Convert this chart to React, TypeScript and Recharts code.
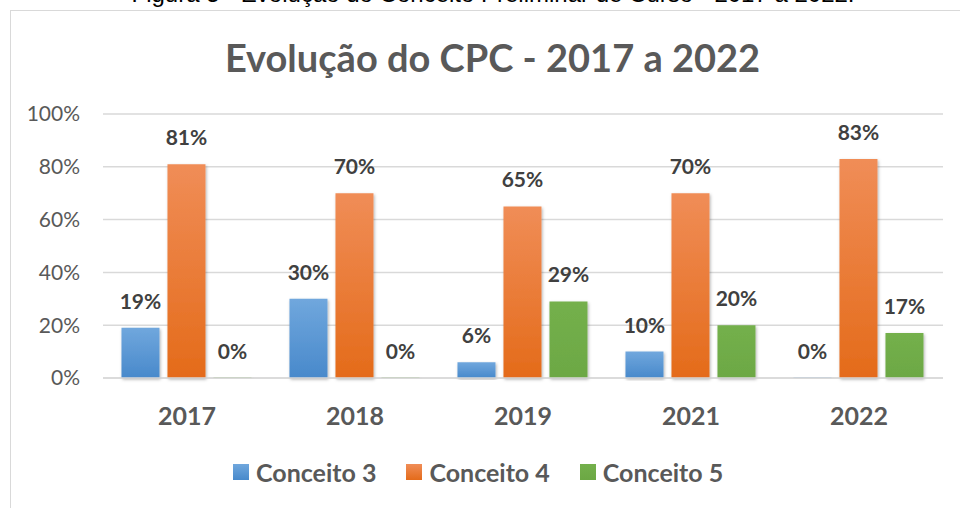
import { BarChart, Bar, XAxis, YAxis, CartesianGrid, Legend, LabelList } from 'recharts';

const years = ['2017', '2018', '2019', '2021', '2022'];
const conceito3 = [19, 30, 6, 10, 0];
const conceito4 = [81, 70, 65, 70, 83];
const conceito5 = [0, 0, 29, 20, 17];
const yTicks = [0, 20, 40, 60, 80, 100];

const data = years.map((year, i) => ({
  year,
  c3: conceito3[i],
  c4: conceito4[i],
  c5: conceito5[i],
}));

const SERIES = [
  { key: 'c3', name: 'Conceito 3', top: '#70a7dd', bottom: '#4889cb' },
  { key: 'c4', name: 'Conceito 4', top: '#f08d57', bottom: '#e46b1a' },
  { key: 'c5', name: 'Conceito 5', top: '#74b04c', bottom: '#6ca844' },
];

const FONT = 'Lato, "Open Sans", sans-serif';
const TEXT = '#595959';

function LegendContent() {
  return (
    <div style={{ display: 'flex', alignItems: 'center', fontFamily: FONT }}>
      {SERIES.map((s, i) => (
        <div key={s.key} style={{ display: 'flex', alignItems: 'center', marginLeft: i === 0 ? 0 : 30 }}>
          <span
            style={{
              width: 16,
              height: 16,
              marginRight: 7,
              background: `linear-gradient(${s.top}, ${s.bottom})`,
              display: 'inline-block',
            }}
          />
          <span style={{ fontSize: 25, fontWeight: 700, color: TEXT }}>{s.name}</span>
        </div>
      ))}
    </div>
  );
}

export default function App() {
  return (
    <div
      style={{
        position: 'absolute',
        left: 0,
        top: 0,
        width: 960,
        height: 508,
        overflow: 'hidden',
        background: '#fff',
      }}
    >
      <div
        style={{
          position: 'absolute',
          left: 0,
          width: 986,
          top: -20,
          textAlign: 'center',
          fontFamily: '"Liberation Sans", Arial, sans-serif',
          fontSize: 24,
          lineHeight: '28px',
          color: '#000',
        }}
      >
        Figura 5 - Evolução do Conceito Preliminar de Curso - 2017 a 2022.
      </div>
      <div
        style={{
          position: 'absolute',
          left: 10,
          top: 10,
          width: 965,
          height: 520,
          borderLeft: '1px solid #d9d9d9',
          borderTop: '1px solid #d9d9d9',
        }}
      >
        <div
          style={{
            position: 'absolute',
            left: 0,
            top: 23,
            width: 963,
            textAlign: 'center',
            fontFamily: FONT,
            fontWeight: 700,
            fontSize: 38,
            color: TEXT,
          }}
        >
          Evolução do CPC - 2017 a 2022
        </div>
        <BarChart
          width={965}
          height={497}
          data={data}
          margin={{ top: 103, right: 33, bottom: 70, left: 0 }}
          barGap={8}
          barCategoryGap="11%"
        >
          <defs>
            {SERIES.map((s) => (
              <linearGradient key={s.key} id={`grad-${s.key}`} x1="0" y1="0" x2="0" y2="1">
                <stop offset="0%" stopColor={s.top} />
                <stop offset="100%" stopColor={s.bottom} />
              </linearGradient>
            ))}
            <filter id="barShadow" x="-20%" y="-5%" width="140%" height="115%">
              <feDropShadow dx="1" dy="1.5" stdDeviation="1.8" floodColor="#000" floodOpacity="0.3" />
            </filter>
          </defs>
          <CartesianGrid vertical={false} stroke="#d9d9d9" strokeWidth={1.5} />
          <XAxis
            dataKey="year"
            axisLine={{ stroke: '#d9d9d9', strokeWidth: 1.5 }}
            tickLine={false}
            tickMargin={23}
            tick={{ fill: TEXT, fontSize: 25, fontWeight: 700, fontFamily: FONT }}
          />
          <YAxis
            width={92}
            domain={[0, 100]}
            ticks={yTicks}
            axisLine={false}
            tickLine={false}
            tickMargin={17}
            tickFormatter={(v: number) => `${v}%`}
            tick={{ fill: TEXT, fontSize: 21, fontFamily: FONT }}
          />
          <Legend
            content={<LegendContent />}
            wrapperStyle={{ left: 222, top: 446, width: 'auto' }}
          />
          {SERIES.map((s) => (
            <Bar
              key={s.key}
              dataKey={s.key}
              name={s.name}
              fill={`url(#grad-${s.key})`}
              filter="url(#barShadow)"
              minPointSize={0.5}
              isAnimationActive={false}
            >
              <LabelList
                dataKey={s.key}
                position="top"
                offset={19}
                formatter={(v: number) => `${v}%`}
                style={{ fill: '#404040', fontSize: 21, fontWeight: 700, fontFamily: FONT }}
              />
            </Bar>
          ))}
        </BarChart>
      </div>
    </div>
  );
}
